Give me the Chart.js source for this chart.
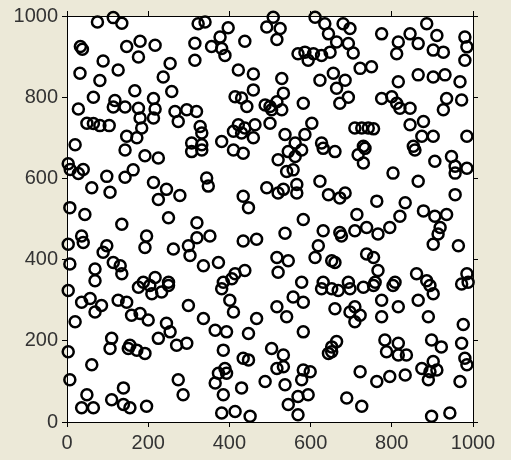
<!DOCTYPE html>
<html>
<head>
<meta charset="utf-8">
<script src="https://cdn.jsdelivr.net/npm/chart.js@4/dist/chart.umd.min.js"></script>
<style>
  body { margin: 0; background: #ece9d8; }
  canvas { display: block; }
</style>
</head>
<body>
<canvas id="scatter" width="511" height="460"></canvas>
<script>
// point positions, grouped roughly by region (top-left to bottom-right)
const xValues = [
    75, 114, 135, 323, 33, 38, 147, 180, 217, 315, 89, 176, 254, 32, 126, 315, 237, 81, 167, 258, 65, 118, 213, 28, 114, 143, 176, 217, 266, 295, 319, 49, 65, 81, 104, 180, 213, 184, 274, 147, 172, 20, 307,
    340, 397, 377, 508, 492, 525, 517, 438, 611, 635, 644, 356, 381, 389, 569, 586, 607, 627, 648, 594, 422, 459, 529, 623, 459, 533, 414, 430, 443, 488, 500, 517, 529, 504, 582, 328, 332, 422, 438, 463, 500, 603, 410, 430, 459, 537, 586, 381, 332, 562, 627,
    680, 697, 664, 693, 705, 775, 816, 845, 865, 812, 886, 911, 902, 927, 980, 985, 980, 722, 750, 656, 685, 664, 816, 865, 902, 931, 968, 672, 693, 775, 800, 812, 820, 845, 927, 935, 972, 709, 726, 742, 755, 845, 878, 874, 902, 730, 985, 853,
    143, 192, 225, 307, 3, 8, 28, 40, 98, 143, 163, 61, 106, 213, 245, 278, 225, 7, 44, 135, 250, 320, 36, 40, 3, 196, 192, 98, 89, 114, 131, 262, 299, 303, 7, 69, 69, 135, 188, 217, 250,
    332, 434, 410, 520, 545, 562, 578, 631, 541, 557, 344, 348, 492, 520, 533, 566, 566, 623, 644, 434, 447, 582, 352, 320, 434, 467, 537, 631, 619, 611, 652, 336, 373, 517, 545, 520, 414, 438, 406, 385, 578, 631,
    660, 717, 730, 734, 857, 906, 947, 956, 956, 985, 803, 865, 956, 685, 672, 763, 833, 820, 878, 906, 935, 714, 672, 676, 709, 738, 766, 795, 919, 914, 902, 964, 738, 755, 766, 660, 861, 886, 985, 693, 759, 808,
    3, 36, 57, 69, 85, 126, 147, 176, 204, 209, 233, 250, 159, 180, 200, 20, 245, 299, 254, 225, 270, 295, 110, 106, 151, 172, 192, 155, 3, 61, 7, 139, 274, 286, 49, 110, 139, 155, 36, 65, 196,
    381, 401, 410, 627, 652, 557, 582, 517, 541, 336, 467, 365, 393, 447, 582, 385, 434, 447, 504, 533, 517, 533, 644, 652, 389, 373, 393, 365, 385, 430, 488, 537, 582, 599, 578, 594, 569, 545, 381, 414, 451, 569,
    668, 697, 730, 755, 803, 894, 972, 988, 775, 816, 865, 902, 660, 697, 709, 722, 709, 775, 890, 976, 664, 652, 783, 816, 787, 816, 836, 898, 922, 972, 980, 985, 902, 874, 894, 911, 890, 722, 763, 795, 833, 968, 689, 726, 898, 943
];
const yValues = [
    985, 996, 982, 981, 925, 918, 925, 938, 928, 933, 889, 899, 883, 859, 867, 891, 850, 841, 816, 814, 800, 792, 797, 771, 776, 776, 773, 771, 765, 769, 765, 736, 735, 730, 730, 749, 749, 724, 740, 704, 700, 683, 687,
    985, 971, 948, 997, 973, 969, 942, 938, 997, 981, 956, 925, 920, 903, 907, 911, 907, 903, 911, 891, 867, 857, 846, 842, 818, 810, 801, 798, 777, 781, 777, 789, 769, 769, 785, 728, 712, 732, 724, 732, 736, 736, 716, 712, 700, 708, 708, 691, 683, 687, 687,
    981, 969, 936, 932, 909, 956, 936, 956, 932, 907, 981, 952, 916, 911, 948, 924, 891, 871, 875, 859, 842, 822, 838, 855, 850, 855, 838, 785, 800, 797, 801, 785, 773, 773, 769, 797, 793, 724, 724, 724, 722, 732, 740, 704, 704, 679, 704, 679,
    670, 656, 650, 666, 636, 622, 612, 622, 605, 603, 621, 577, 566, 590, 573, 558, 548, 528, 511, 487, 503, 491, 458, 442, 438, 458, 430, 434, 418, 393, 385, 426, 434, 410, 389, 377, 348, 365, 344, 356, 344,
    670, 662, 670, 646, 666, 654, 670, 674, 617, 621, 601, 581, 577, 564, 573, 585, 564, 593, 560, 556, 528, 499, 458, 454, 446, 450, 465, 471, 434, 405, 397, 385, 393, 405, 397, 369, 365, 373, 353, 344, 344, 344,
    666, 658, 638, 674, 670, 642, 654, 630, 613, 625, 613, 593, 560, 564, 552, 544, 540, 507, 520, 507, 511, 511, 467, 458, 471, 479, 463, 479, 479, 463, 438, 434, 414, 405, 373, 393, 365, 348, 365, 344, 344, 344,
    324, 295, 304, 271, 287, 300, 295, 332, 336, 316, 320, 336, 263, 267, 251, 247, 243, 287, 222, 206, 189, 194, 206, 181, 181, 177, 169, 189, 173, 141, 104, 84, 104, 67, 67, 55, 43, 35, 35, 35, 39,
    328, 300, 271, 328, 328, 308, 295, 284, 259, 255, 255, 226, 222, 218, 222, 177, 157, 153, 181, 165, 132, 136, 169, 185, 132, 120, 120, 96, 67, 84, 100, 92, 128, 124, 104, 67, 63, 43, 22, 26, 14, 18,
    324, 328, 332, 336, 336, 336, 340, 344, 300, 284, 300, 316, 279, 271, 284, 263, 247, 259, 259, 240, 198, 173, 202, 194, 173, 165, 165, 202, 185, 194, 157, 141, 149, 132, 124, 128, 104, 124, 100, 112, 116, 100, 59, 39, 14, 22
];
const tickValues = [0, 200, 400, 600, 800, 1000];

function buildPoints() {
    return xValues.map((x, i) => ({ x: x, y: yValues[i] }));
}

// beige window background with a white plot box
const backgroundPlugin = {
    id: 'background',
    beforeDraw(chart) {
        const ctx = chart.ctx;
        const area = chart.chartArea;
        ctx.save();
        ctx.fillStyle = '#ece9d8';
        ctx.fillRect(0, 0, chart.width, chart.height);
        ctx.fillStyle = '#ffffff';
        ctx.fillRect(area.left, area.top, area.right - area.left, area.bottom - area.top);
        ctx.restore();
    }
};

function axis(position, showLabels, size) {
    const horizontal = position === 'top' || position === 'bottom';
    return {
        type: 'linear',
        position: position,
        min: 0,
        max: 1000,
        afterBuildTicks: scale => {
            scale.ticks = tickValues.map(v => ({ value: v }));
        },
        afterFit: scale => {
            if (horizontal) scale.height = size;
            else scale.width = size;
        },
        grid: {
            display: true,
            drawOnChartArea: false,
            drawTicks: true,
            tickLength: 5,
            color: '#000'
        },
        border: { display: true, color: '#000', width: 1 },
        ticks: {
            display: showLabels,
            padding: 4,
            color: '#333',
            font: { family: 'Liberation Sans, Arial, sans-serif', size: 20 },
            callback: value => String(value)
        }
    };
}

document.addEventListener('DOMContentLoaded', function() {
    const ctx = document.getElementById('scatter').getContext('2d');

    window.scatterChart = new Chart(ctx, {
        type: 'scatter',
        data: {
            datasets: [{
                data: buildPoints(),
                pointStyle: 'circle',
                pointRadius: 5.5,
                pointBorderWidth: 2.5,
                borderColor: '#000',
                backgroundColor: 'rgba(0,0,0,0)',
                clip: false
            }]
        },
        options: {
            responsive: false,
            animation: false,
            events: [],
            layout: { padding: 0 },
            plugins: {
                legend: { display: false },
                tooltip: { enabled: false }
            },
            scales: {
                x: axis('bottom', true, 38),
                y: axis('left', true, 67),
                x2: axis('top', false, 13),
                y2: axis('right', false, 38)
            }
        },
        plugins: [backgroundPlugin]
    });
});
</script>
</body>
</html>
